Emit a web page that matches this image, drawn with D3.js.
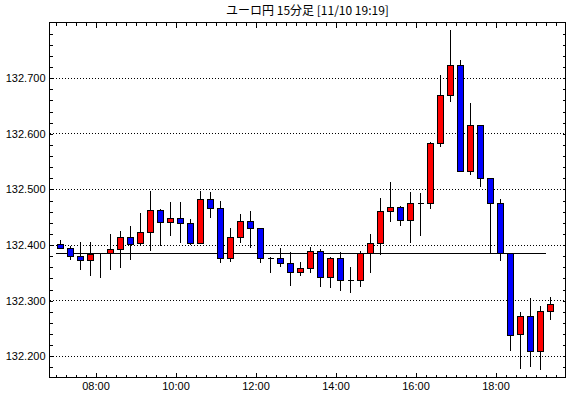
<!DOCTYPE html>
<html>
<head>
<meta charset="utf-8">
<script src="https://cdn.jsdelivr.net/npm/d3@7"></script>
<style>
  body { margin: 0; background: #fff; }
  text { font-family: "Liberation Sans", Arial, sans-serif; }
</style>
</head>
<body>
<div class="canvas"></div>
<script>
const title = 'ユーロ円 15分足 [11/10 19:19]';

const times = [
  '07:00', '07:15', '07:30', '07:45', '08:00', '08:15', '08:30', '08:45',
  '09:00', '09:15', '09:30', '09:45', '10:00', '10:15', '10:30', '10:45',
  '11:00', '11:15', '11:30', '11:45', '12:00', '12:15', '12:30', '12:45',
  '13:00', '13:15', '13:30', '13:45', '14:00', '14:15', '14:30', '14:45',
  '15:00', '15:15', '15:30', '15:45', '16:00', '16:15', '16:30', '16:45',
  '17:00', '17:15', '17:30', '17:45', '18:00', '18:15', '18:30', '18:45',
  '19:00', '19:15'
];
const open = [
  132.401, 132.394, 132.380, 132.373, 132.384, 132.384, 132.392, 132.414,
  132.403, 132.423, 132.462, 132.441, 132.448, 132.439, 132.403, 132.482,
  132.466, 132.376, 132.414, 132.442, 132.430, 132.376, 132.376, 132.367,
  132.351, 132.358, 132.389, 132.342, 132.376, 132.337, 132.337, 132.385,
  132.403, 132.461, 132.467, 132.444, 132.475, 132.475, 132.582, 132.668,
  132.722, 132.532, 132.614, 132.519, 132.475, 132.384, 132.239, 132.271,
  132.209, 132.280
];
const high = [
  132.409, 132.399, 132.405, 132.405, 132.386, 132.420, 132.425, 132.434,
  132.458, 132.497, 132.464, 132.477, 132.477, 132.446, 132.497, 132.495,
  132.480, 132.430, 132.455, 132.461, 132.431, 132.379, 132.394, 132.387,
  132.369, 132.396, 132.393, 132.378, 132.387, 132.360, 132.389, 132.420,
  132.485, 132.514, 132.471, 132.496, 132.493, 132.586, 132.706, 132.786,
  132.732, 132.656, 132.614, 132.519, 132.482, 132.384, 132.280, 132.304,
  132.290, 132.307
];
const low = [
  132.394, 132.374, 132.356, 132.345, 132.340, 132.356, 132.358, 132.374,
  132.399, 132.389, 132.399, 132.417, 132.403, 132.401, 132.403, 132.448,
  132.368, 132.370, 132.404, 132.395, 132.367, 132.349, 132.361, 132.327,
  132.345, 132.349, 132.324, 132.322, 132.318, 132.313, 132.324, 132.350,
  132.382, 132.441, 132.434, 132.403, 132.417, 132.464, 132.576, 132.657,
  132.532, 132.526, 132.504, 132.384, 132.372, 132.209, 132.178, 132.181,
  132.175, 132.266
];
const close = [
  132.394, 132.380, 132.373, 132.383, 132.385, 132.392, 132.414, 132.401,
  132.423, 132.462, 132.441, 132.448, 132.439, 132.403, 132.482, 132.466,
  132.376, 132.414, 132.442, 132.430, 132.376, 132.376, 132.367, 132.351,
  132.358, 132.389, 132.342, 132.376, 132.337, 132.337, 132.385, 132.403,
  132.460, 132.467, 132.444, 132.475, 132.475, 132.582, 132.668, 132.722,
  132.532, 132.614, 132.519, 132.475, 132.384, 132.237, 132.271, 132.209,
  132.280, 132.294
];

// 基準線 (前日終値)
const baseValue = 132.384;

const yLabels = [132.2, 132.3, 132.4, 132.5, 132.6, 132.7];
const xLabels = ['08:00', '10:00', '12:00', '14:00', '16:00', '18:00'];

const parse = s => {
    const [h, m] = s.split(':').map(Number);
    return new Date(2020, 10, 10, h, m);
};
const addMin = (d, m) => new Date(d.getTime() + m * 60000);

const data = times.map((t, i) => ({
    time: parse(t),
    open: open[i],
    high: high[i],
    low: low[i],
    close: close[i]
}));

const svg = d3.select('.canvas')
    .append('svg')
    .attr('width', 570)
    .attr('height', 398);

const plotL = 49.5, plotR = 565.5, plotT = 22.5, plotB = 377.5;

const x = d3.scaleTime()
    .domain([parse('06:51'), parse('19:45')])
    .range([plotL, plotR]);

const y = d3.scaleLinear()
    .domain([132.162, 132.800])
    .range([plotB, plotT]);

const snap = v => Math.round(v - 0.5) + 0.5;

// タイトル
svg.append('text')
    .attr('x', (plotL + plotR) / 2)
    .attr('y', 15)
    .attr('text-anchor', 'middle')
    .attr('font-size', '12px')
    .style('font-family', '"Noto Sans CJK JP", sans-serif')
    .text(title);

// 目盛り
const minorX = d3.timeMinute.every(15).range(parse('07:00'), parse('19:45'));
const majorX = xLabels.map(parse);
const minorY = d3.range(132.18, 132.79, 0.02);

const tickX = (g, axis) => g.call(axis).call(g => g.select('.domain').remove());

svg.append('g')
    .attr('transform', `translate(0, ${plotB})`)
    .call(g => tickX(g, d3.axisBottom(x).tickValues(minorX).tickSize(-3).tickFormat('')));
svg.append('g')
    .attr('transform', `translate(0, ${plotB})`)
    .call(g => tickX(g, d3.axisBottom(x).tickValues(majorX).tickSize(-5).tickPadding(5)
        .tickFormat(d3.timeFormat('%H:%M'))));
svg.append('g')
    .attr('transform', `translate(0, ${plotT})`)
    .call(g => tickX(g, d3.axisTop(x).tickValues(minorX).tickSize(-3).tickFormat('')));
svg.append('g')
    .attr('transform', `translate(0, ${plotT})`)
    .call(g => tickX(g, d3.axisTop(x).tickValues(majorX).tickSize(-5).tickFormat('')));

svg.append('g')
    .attr('transform', `translate(${plotL}, 0)`)
    .call(g => tickX(g, d3.axisLeft(y).tickValues(minorY).tickSize(-3).tickFormat('')));
svg.append('g')
    .attr('transform', `translate(${plotR}, 0)`)
    .call(g => tickX(g, d3.axisRight(y).tickValues(minorY).tickSize(-3).tickFormat('')));
svg.append('g')
    .attr('transform', `translate(${plotL}, 0)`)
    .call(g => tickX(g, d3.axisLeft(y).tickValues(yLabels).tickSize(0).tickPadding(4)
        .tickFormat(d3.format('.3f'))));

svg.selectAll('.tick text')
    .attr('font-size', '11px')
    .attr('fill', '#000')
    .style('font-family', '"Liberation Sans", Arial, sans-serif');
svg.selectAll('.tick line')
    .attr('stroke', '#000')
    .attr('shape-rendering', 'crispEdges');

// グリッド線
svg.append('g')
    .selectAll('line')
    .data(yLabels)
    .enter()
    .append('line')
    .attr('x1', plotL)
    .attr('x2', plotR)
    .attr('y1', d => snap(y(d)))
    .attr('y2', d => snap(y(d)))
    .attr('stroke', '#000')
    .attr('stroke-dasharray', '1,2')
    .attr('shape-rendering', 'crispEdges');

// 枠
svg.append('rect')
    .attr('x', plotL)
    .attr('y', plotT)
    .attr('width', plotR - plotL)
    .attr('height', plotB - plotT)
    .attr('fill', 'none')
    .attr('stroke', '#000')
    .attr('shape-rendering', 'crispEdges');

// 基準線
svg.append('line')
    .attr('x1', x(data[0].time))
    .attr('x2', x(data[data.length - 1].time))
    .attr('y1', snap(y(baseValue)))
    .attr('y2', snap(y(baseValue)))
    .attr('stroke', '#000')
    .attr('shape-rendering', 'crispEdges');

// ローソク足
const cx = d => snap(x(addMin(d.time, 7.5)));
const candles = svg.append('g')
    .selectAll('g')
    .data(data)
    .enter()
    .append('g');

candles.append('line')
    .attr('x1', cx)
    .attr('x2', cx)
    .attr('y1', d => Math.round(y(d.high)))
    .attr('y2', d => Math.round(y(d.low)))
    .attr('stroke', '#000')
    .attr('shape-rendering', 'crispEdges');

candles.append('path')
    .attr('d', d => {
        const x0 = cx(d) - 3;
        const y0 = snap(y(Math.max(d.open, d.close)));
        const y1 = snap(y(Math.min(d.open, d.close)));
        return `M${x0},${y0}h6V${y1}h-6Z`;
    })
    .attr('fill', d => d.close >= d.open ? '#ff0000' : '#0000ff')
    .attr('stroke', '#000')
    .attr('stroke-width', 1.2)
    .attr('shape-rendering', 'crispEdges');
</script>
</body>
</html>
